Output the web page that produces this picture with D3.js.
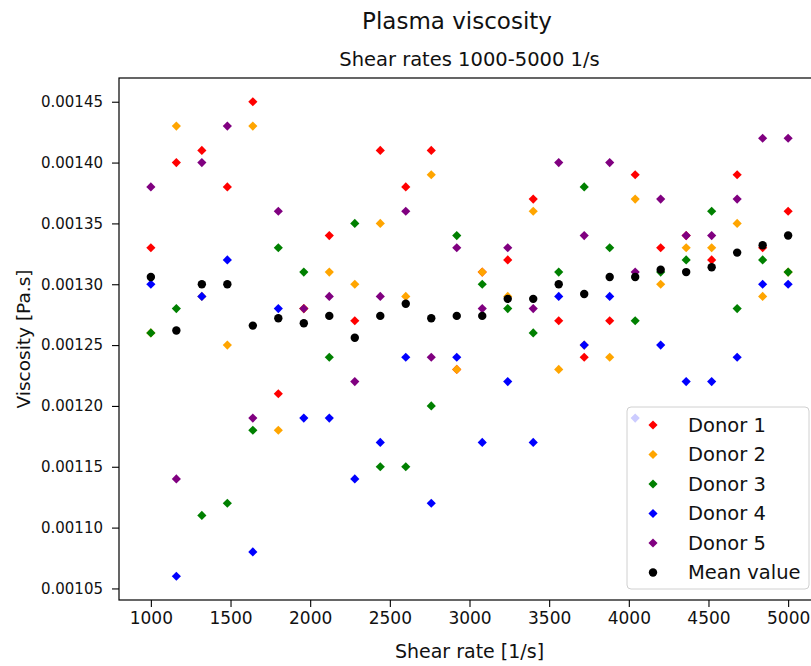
<!DOCTYPE html>
<html><head><meta charset="utf-8">
<script src="https://cdn.jsdelivr.net/npm/d3@7"></script>
<style>body{margin:0;background:#fff} svg text{font-family:"DejaVu Sans",sans-serif;fill:#111}</style>
</head><body><svg id="c" width="811" height="666"></svg>
<script>
const shearRates = [1000,1160,1320,1480,1640,1800,1960,2120,2280,2440,2600,2760,2920,3080,3240,3400,3560,3720,3880,4040,4200,4360,4520,4680,4840,5000];
const donor1 = [0.00133,0.00140,0.00141,0.00138,0.00145,0.00121,0.00128,0.00134,0.00127,0.00141,0.00138,0.00141,0.00123,0.00131,0.00132,0.00137,0.00127,0.00124,0.00127,0.00139,0.00133,0.00134,0.00132,0.00139,0.00133,0.00136];
const donor2 = [0.00126,0.00143,0.00129,0.00125,0.00143,0.00118,0.00128,0.00131,0.00130,0.00135,0.00129,0.00139,0.00123,0.00131,0.00129,0.00136,0.00123,0.00125,0.00124,0.00137,0.00130,0.00133,0.00133,0.00135,0.00129,0.00131];
const donor3 = [0.00126,0.00128,0.00111,0.00112,0.00118,0.00133,0.00131,0.00124,0.00135,0.00115,0.00115,0.00120,0.00134,0.00130,0.00128,0.00126,0.00131,0.00138,0.00133,0.00127,0.00131,0.00132,0.00136,0.00128,0.00132,0.00131];
const donor4 = [0.00130,0.00106,0.00129,0.00132,0.00108,0.00128,0.00119,0.00119,0.00114,0.00117,0.00124,0.00112,0.00124,0.00117,0.00122,0.00117,0.00129,0.00125,0.00129,0.00119,0.00125,0.00122,0.00122,0.00124,0.00130,0.00130];
const donor5 = [0.00138,0.00114,0.00140,0.00143,0.00119,0.00136,0.00128,0.00129,0.00122,0.00129,0.00136,0.00124,0.00133,0.00128,0.00133,0.00128,0.00140,0.00134,0.00140,0.00131,0.00137,0.00134,0.00134,0.00137,0.00142,0.00142];
const meanValue = [0.001306,0.001262,0.001300,0.001300,0.001266,0.001272,0.001268,0.001274,0.001256,0.001274,0.001284,0.001272,0.001274,0.001274,0.001288,0.001288,0.001300,0.001292,0.001306,0.001306,0.001312,0.001310,0.001314,0.001326,0.001332,0.001340];
const seriesNames = ["Donor 1","Donor 2","Donor 3","Donor 4","Donor 5","Mean value"];
const seriesColors = ["#ff0000","#ffa500","#008000","#0000ff","#800080","#000000"];
const xTicks = [1000,1500,2000,2500,3000,3500,4000,4500,5000];
const yTicks = [0.00105,0.00110,0.00115,0.00120,0.00125,0.00130,0.00135,0.00140,0.00145];
const titleText = "Plasma viscosity";
const subtitleText = "Shear rates 1000-5000 1/s";
const xLabel = "Shear rate [1/s]";
const yLabel = "Viscosity [Pa.s]";

const series = [donor1, donor2, donor3, donor4, donor5, meanValue];
const L = 119, T = 78, R = 820, B = 600;
const svg = d3.select("#c");
const x = d3.scaleLinear().domain([800, 5200]).range([L, R]);
const y = d3.scaleLinear().domain([0.0010405, 0.0014695]).range([B, T]);

// axes
const gx = svg.append("g").attr("transform", `translate(0,${B})`)
  .call(d3.axisBottom(x).tickValues(xTicks).tickFormat(d3.format("d")).tickSize(7).tickPadding(5));
gx.select(".domain").remove();
gx.selectAll("text").style("font-size", "17px").attr("fill", "#111");
gx.selectAll("line").attr("stroke", "#000").attr("stroke-width", 1.1);

const gy = svg.append("g").attr("transform", `translate(${L},0)`)
  .call(d3.axisLeft(y).tickValues(yTicks).tickFormat(d3.format(".5f")).tickSize(7).tickPadding(9));
gy.select(".domain").remove();
gy.selectAll("text").style("font-size", "15px").attr("fill", "#111");
gy.selectAll("line").attr("stroke", "#000").attr("stroke-width", 1.1);

// points
const diamond = d3.symbol().type(d3.symbolSquare).size(42)();
series.forEach((vals, si) => {
  const g = svg.append("g");
  const data = vals.map((v, i) => ({x: shearRates[i], y: v}));
  if (si < 5) {
    g.selectAll("path").data(data).join("path")
      .attr("d", diamond)
      .attr("transform", d => `translate(${x(d.x)},${y(d.y)}) rotate(45)`)
      .attr("fill", seriesColors[si]);
  } else {
    g.selectAll("circle").data(data).join("circle")
      .attr("cx", d => x(d.x)).attr("cy", d => y(d.y)).attr("r", 4.2)
      .attr("fill", seriesColors[si]);
  }
});

// frame
svg.append("rect").attr("x", L).attr("y", T).attr("width", R - L).attr("height", B - T)
  .attr("fill", "none").attr("stroke", "#000").attr("stroke-width", 1.2);

// legend
const lg = svg.append("g");
lg.append("rect").attr("x", 627).attr("y", 407).attr("width", 182).attr("height", 182)
  .attr("rx", 4).attr("fill", "#fff").attr("fill-opacity", 0.8).attr("stroke", "#d0d0d0").attr("stroke-width", 1);
seriesNames.forEach((name, i) => {
  const cy = 425 + i * 29.5;
  if (i < 5) {
    lg.append("path").attr("d", diamond).attr("transform", `translate(653,${cy}) rotate(45)`).attr("fill", seriesColors[i]);
  } else {
    lg.append("circle").attr("cx", 653).attr("cy", cy).attr("r", 4.2).attr("fill", seriesColors[i]);
  }
  lg.append("text").attr("x", 688).attr("y", cy + 6.5).style("font-size", "19.5px").text(name);
});

// titles and labels
svg.append("text").attr("x", 457).attr("y", 29).attr("text-anchor", "middle").style("font-size", "23px").text(titleText);
svg.append("text").attr("x", 469.5).attr("y", 66).attr("text-anchor", "middle").style("font-size", "19.5px").text(subtitleText);
svg.append("text").attr("x", 469.5).attr("y", 658).attr("text-anchor", "middle").style("font-size", "19px").text(xLabel);
svg.append("text").attr("transform", "translate(30,339) rotate(-90)").attr("text-anchor", "middle").style("font-size", "18.5px").text(yLabel);
</script></body></html>
